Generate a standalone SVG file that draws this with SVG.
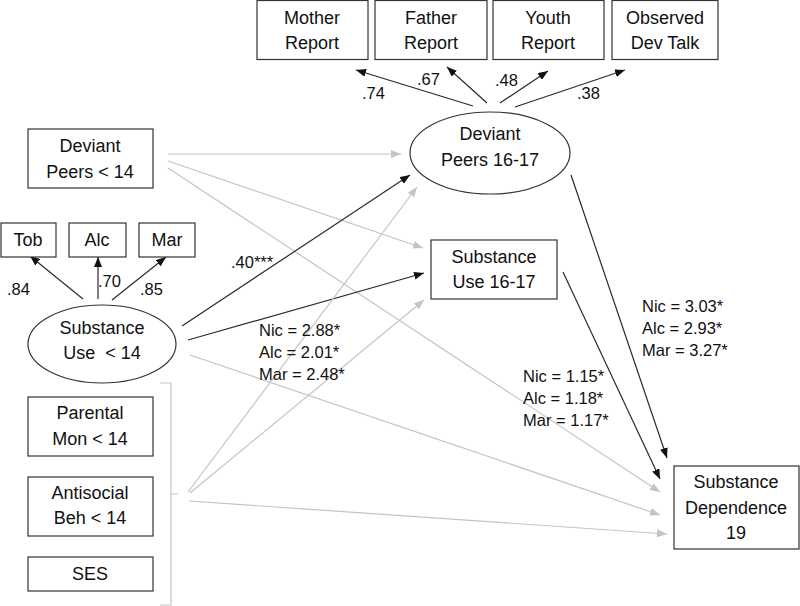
<svg xmlns="http://www.w3.org/2000/svg" width="800" height="606" viewBox="0 0 800 606">
<style>
text{font-family:"Liberation Sans",Arial,sans-serif;fill:#111;}
.n{font-size:18px;text-anchor:middle;}
.c{font-size:16.5px;}
.box{fill:#fff;stroke:#333;stroke-width:1.2;}
.blk{stroke:#2a2a2a;stroke-width:1.2;fill:none;marker-end:url(#ab);}
.gry{stroke:#c4c4c4;stroke-width:1.2;fill:none;marker-end:url(#ag);}
</style>
<defs>
<marker id="ab" viewBox="0 0 10 8" refX="10" refY="4" markerWidth="10" markerHeight="8" markerUnits="userSpaceOnUse" orient="auto"><path d="M0,0L10,4L0,8z" fill="#111"/></marker>
<marker id="ag" viewBox="0 0 10 8" refX="10" refY="4" markerWidth="10" markerHeight="8" markerUnits="userSpaceOnUse" orient="auto"><path d="M0,0L10,4L0,8z" fill="#c4c4c4"/></marker>
</defs>
<rect width="800" height="606" fill="#fff"/>
<g id="connectors">
<line class="blk" x1="473" y1="106" x2="356" y2="70"/>
<line class="blk" x1="487" y1="103" x2="447" y2="67"/>
<line class="blk" x1="500" y1="103" x2="548" y2="71"/>
<line class="blk" x1="515" y1="107" x2="625" y2="70"/>
<line class="blk" x1="83" y1="299" x2="30" y2="256"/>
<line class="blk" x1="98" y1="299" x2="98" y2="257"/>
<line class="blk" x1="112" y1="300" x2="166" y2="257"/>
<line class="gry" x1="168" y1="154" x2="401" y2="154"/>
<line class="gry" x1="168" y1="161" x2="423" y2="248"/>
<line class="gry" x1="168" y1="168" x2="660" y2="492"/>
<line class="blk" x1="182" y1="326" x2="410" y2="175"/>
<line class="blk" x1="188" y1="340" x2="424" y2="273"/>
<line class="gry" x1="190" y1="355" x2="660" y2="515"/>
<line class="gry" x1="188" y1="492" x2="417" y2="187"/>
<line class="gry" x1="190" y1="493" x2="424" y2="300"/>
<line class="gry" x1="189" y1="501" x2="667" y2="534"/>
<line class="blk" x1="571" y1="175" x2="667" y2="458"/>
<line class="blk" x1="563" y1="272" x2="660" y2="479"/>
<path d="M160,383H171V605H160M171,494H178" fill="none" stroke="#c4c4c4" stroke-width="1.2"/>
</g>
<g id="labels">
<text class="c" x="362" y="99">.74</text>
<text class="c" x="417" y="85">.67</text>
<text class="c" x="495" y="86">.48</text>
<text class="c" x="577" y="99">.38</text>
<text class="c" x="7" y="295">.84</text>
<text class="c" x="98" y="287">.70</text>
<text class="c" x="140" y="295">.85</text>
<text class="c" x="231" y="268">.40***</text>
<text class="c" x="259" y="336">Nic = 2.88*</text>
<text class="c" x="259" y="358">Alc = 2.01*</text>
<text class="c" x="259" y="380">Mar = 2.48*</text>
<text class="c" x="642" y="312">Nic = 3.03*</text>
<text class="c" x="642" y="334">Alc = 2.93*</text>
<text class="c" x="642" y="356">Mar = 3.27*</text>
<text class="c" x="523" y="382">Nic = 1.15*</text>
<text class="c" x="523" y="404">Alc = 1.18*</text>
<text class="c" x="523" y="426">Mar = 1.17*</text>
</g>
<g id="mother"><rect class="box" x="257" y="0.5" width="111" height="59"/><text class="n" x="312" y="24">Mother</text><text class="n" x="312" y="49">Report</text></g>
<g id="father"><rect class="box" x="375" y="0.5" width="112" height="59"/><text class="n" x="431" y="24">Father</text><text class="n" x="431" y="49">Report</text></g>
<g id="youth"><rect class="box" x="493" y="0.5" width="111" height="59"/><text class="n" x="548" y="24">Youth</text><text class="n" x="548" y="49">Report</text></g>
<g id="observed"><rect class="box" x="612" y="0.5" width="106" height="59"/><text class="n" x="665" y="24">Observed</text><text class="n" x="665" y="49">Dev Talk</text></g>
<g id="devpeers1617"><ellipse class="box" cx="490" cy="153" rx="80" ry="41"/><text class="n" x="490" y="140">Deviant</text><text class="n" x="490" y="166">Peers 16-17</text></g>
<g id="subuse1617"><rect class="box" x="431" y="240" width="126" height="59"/><text class="n" x="494" y="263">Substance</text><text class="n" x="494" y="288">Use 16-17</text></g>
<g id="subdep19"><rect class="box" x="674" y="466" width="125" height="83"/><text class="n" x="736" y="488">Substance</text><text class="n" x="736" y="514">Dependence</text><text class="n" x="736" y="539">19</text></g>
<g id="devpeers14"><rect class="box" x="28" y="129" width="125" height="59"/><text class="n" x="90" y="152">Deviant</text><text class="n" x="90" y="178">Peers &lt; 14</text></g>
<g id="tob"><rect class="box" x="1" y="223" width="55" height="34"/><text class="n" x="28" y="246">Tob</text></g>
<g id="alc"><rect class="box" x="69" y="223" width="57" height="34"/><text class="n" x="97" y="246">Alc</text></g>
<g id="mar"><rect class="box" x="139" y="223" width="56" height="34"/><text class="n" x="167" y="246">Mar</text></g>
<g id="subuse14"><ellipse class="box" cx="102" cy="344" rx="74" ry="39"/><text class="n" x="102" y="334">Substance</text><text class="n" x="102" y="359" xml:space="preserve">Use  &lt; 14</text></g>
<g id="parmon"><rect class="box" x="28" y="397" width="125" height="59"/><text class="n" x="90" y="419">Parental</text><text class="n" x="90" y="445">Mon &lt; 14</text></g>
<g id="antisoc"><rect class="box" x="28" y="477" width="125" height="59"/><text class="n" x="90" y="499">Antisocial</text><text class="n" x="90" y="524">Beh &lt; 14</text></g>
<g id="ses"><rect class="box" x="28" y="557" width="125" height="34"/><text class="n" x="90" y="580">SES</text></g>
</svg>
